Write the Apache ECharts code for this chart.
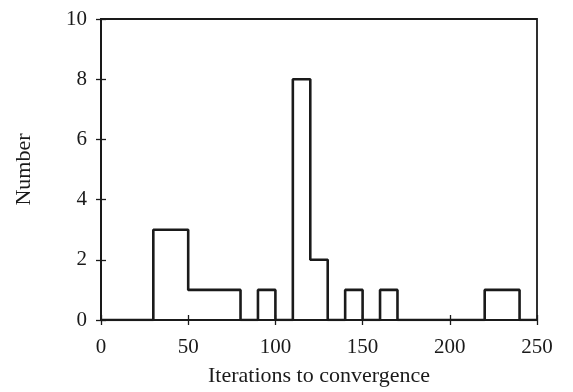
<!DOCTYPE html>
<html>
<head>
<meta charset="utf-8">
<script src="https://cdn.jsdelivr.net/npm/echarts@6/dist/echarts.min.js"></script>
<style>html,body{margin:0;padding:0;background:#fff;}#c{width:573px;height:392px;}</style>
</head>
<body>
<div id="c"></div>
<script>
// Histogram bins (left edges) and counts
const binEdges = [0,10,20,30,40,50,60,70,80,90,100,110,120,130,140,150,160,170,180,190,200,210,220,230,240];
const counts   = [0, 0, 0, 3, 3, 1, 1, 1, 0, 1, 0,  8,  2,  0,  1,  0,  1,  0,  0,  0,  0,  0,  1,  1,  0];
const lastEdge = 250;
const xTicks = [0,50,100,150,200,250];
const yTicks = [0,2,4,6,8,10];
const xTitle = 'Iterations to convergence';
const yTitle = 'Number';

const pts = binEdges.map((e,i)=>[e,counts[i]]);
pts.push([lastEdge, counts[counts.length-1]]);

const font = 'Liberation Serif';
const ink = '#1a1a1a';
const chart = echarts.init(document.getElementById('c'));
const tickCommon = {show:true, inside:true, length:5, lineStyle:{color:ink, width:1.3}};
chart.setOption({
  animation:false,
  backgroundColor:'#fff',
  grid:{left:101, right:36, top:19, bottom:65, show:true, borderColor:ink, borderWidth:1.8, backgroundColor:'transparent'},
  xAxis:[{
    type:'value', min:xTicks[0], max:xTicks[xTicks.length-1], interval:50,
    name:xTitle, nameLocation:'middle', nameGap:45,
    nameTextStyle:{fontFamily:font, fontSize:22, color:ink},
    axisLine:{show:true, lineStyle:{color:ink, width:1.8}},
    axisTick:tickCommon,
    axisLabel:{fontFamily:font, fontSize:21, color:ink, margin:17},
    splitLine:{show:false}
  },{
    type:'value', position:'top', min:xTicks[0], max:xTicks[xTicks.length-1], interval:50,
    axisLine:{show:true, lineStyle:{color:ink, width:1.8}},
    axisTick:tickCommon, axisLabel:{show:false}, splitLine:{show:false}
  }],
  yAxis:[{
    type:'value', min:yTicks[0], max:yTicks[yTicks.length-1], interval:2,
    name:yTitle, nameLocation:'middle', nameGap:66,
    nameTextStyle:{fontFamily:font, fontSize:22, color:ink},
    axisLine:{show:true, lineStyle:{color:ink, width:1.8}},
    axisTick:tickCommon,
    axisLabel:{fontFamily:font, fontSize:21, color:ink, margin:14},
    splitLine:{show:false}
  },{
    type:'value', position:'right', min:yTicks[0], max:yTicks[yTicks.length-1], interval:2,
    axisLine:{show:true, lineStyle:{color:ink, width:1.8}},
    axisTick:tickCommon, axisLabel:{show:false}, splitLine:{show:false}
  }],
  series:[{
    type:'line', step:'end', data:pts, symbol:'none',
    lineStyle:{color:ink, width:2.6}, xAxisIndex:0, yAxisIndex:0
  }]
});
</script>
</body>
</html>
